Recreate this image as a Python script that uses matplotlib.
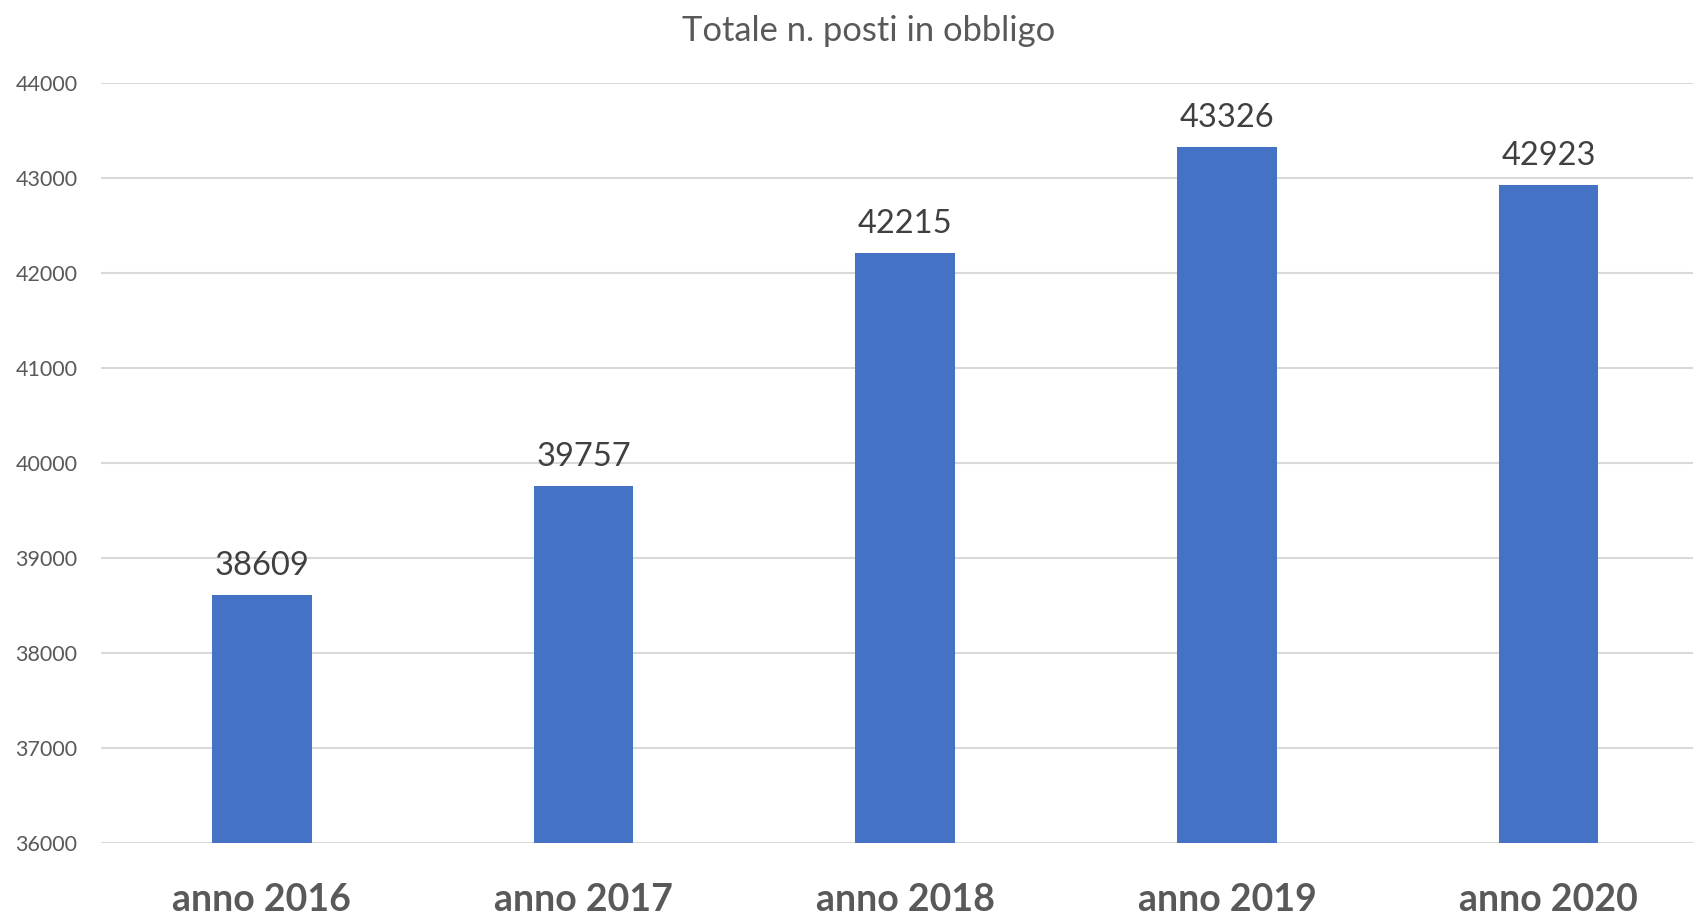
import matplotlib
matplotlib.use('Agg')
import matplotlib.pyplot as plt

years = ['anno 2016', 'anno 2017', 'anno 2018', 'anno 2019', 'anno 2020']
posti = [38609, 39757, 42215, 43326, 42923]
y_ticks = [36000, 37000, 38000, 39000, 40000, 41000, 42000, 43000, 44000]

plt.rcParams['font.family'] = ['Lato', 'DejaVu Sans']

fig = plt.figure(figsize=(16.93, 9.14), dpi=100)
ax = fig.add_axes([0.0597, 0.0777, 0.950, 0.8315])

x = range(len(years))
ax.bar(x, posti, width=0.31, color='#4472C4', zorder=3)

for xi, v in zip(x, posti):
    ax.annotate(str(v), (xi, v), xytext=(0, 10), textcoords='offset points',
                ha='center', va='bottom', fontsize=23.5, color='#404040')

ax.set_xlim(-0.5, 4.5)
ax.set_ylim(36000, 44000)
ax.set_yticks(y_ticks)
ax.set_yticklabels([str(t) for t in y_ticks], fontsize=15.5, color='#595959')
ax.set_xticks(list(x))
ax.set_xticklabels(years, fontsize=27, fontweight='bold', color='#595959')
ax.tick_params(axis='both', length=0)
ax.tick_params(axis='y', pad=17)
ax.tick_params(axis='x', pad=29)
ax.grid(axis='y', color='#D9D9D9', linewidth=1.5, zorder=0)
for s in ax.spines.values():
    s.set_visible(False)

fig.text(0.513, 0.966, 'Totale n. posti in obbligo', ha='center', va='center',
         fontsize=24.8, color='#595959')

fig.savefig('out.png', dpi=100)
